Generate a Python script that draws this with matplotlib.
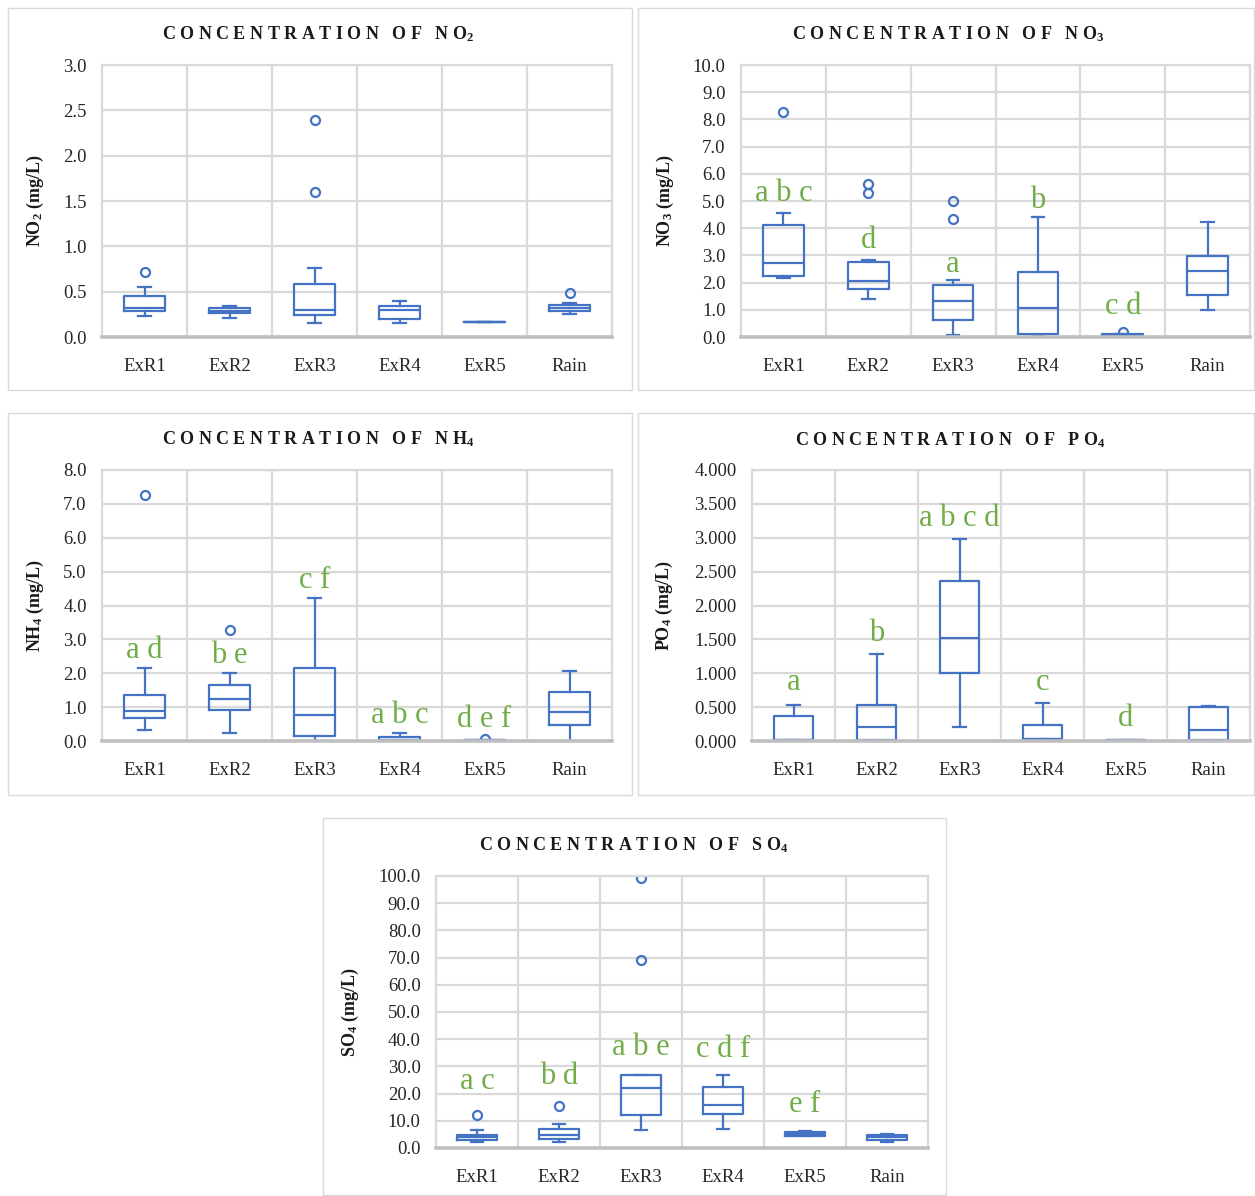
import matplotlib
matplotlib.use("Agg")
import matplotlib.pyplot as plt
from matplotlib.patches import Rectangle
from matplotlib.ticker import FormatStrFormatter, MultipleLocator

plt.rcParams['font.family'] = ['Liberation Serif', 'DejaVu Serif']
plt.rcParams['mathtext.fontset'] = 'custom'
plt.rcParams['mathtext.rm'] = 'Liberation Serif'
plt.rcParams['mathtext.bf'] = 'Liberation Serif:bold'
plt.rcParams['mathtext.it'] = 'Liberation Serif:italic'

W, H, DPI = 1255, 1196, 100
BLUE = '#4472C4'
GREEN = '#70AD47'
GRID = '#D9D9D9'

categories = ["ExR1", "ExR2", "ExR3", "ExR4", "ExR5", "Rain"]

# ---- NO2 ----
no2_whislo = [0.23, 0.21, 0.15, 0.15, 0.16, 0.25]
no2_q1 = [0.29, 0.27, 0.24, 0.20, 0.16, 0.29]
no2_med = [0.32, 0.29, 0.30, 0.30, 0.16, 0.32]
no2_q3 = [0.45, 0.32, 0.58, 0.34, 0.16, 0.35]
no2_whishi = [0.55, 0.34, 0.76, 0.40, 0.16, 0.37]
no2_fliers = [[0.72], [], [1.60, 2.39], [], [], [0.49]]
no2_letters = ["", "", "", "", "", ""]
no2_letter_y = [0, 0, 0, 0, 0, 0]

# ---- NO3 ----
no3_whislo = [2.16, 1.39, 0.06, 0.09, 0.05, 0.99]
no3_q1 = [2.25, 1.76, 0.63, 0.12, 0.06, 1.56]
no3_med = [2.71, 2.06, 1.32, 1.06, 0.09, 2.41]
no3_q3 = [4.11, 2.77, 1.91, 2.40, 0.12, 2.96]
no3_whishi = [4.57, 2.84, 2.08, 4.41, 0.12, 4.22]
no3_fliers = [[8.28], [5.30, 5.63], [4.33, 5.01], [], [0.20], []]
no3_letters = ["a b c", "d", "a", "b", "c d", ""]
no3_letter_y = [5.26, 3.53, 2.65, 5.01, 1.11, 0]

# ---- NH4 ----
nh4_whislo = [0.31, 0.25, 0.00, 0.00, 0.00, 0.00]
nh4_q1 = [0.68, 0.92, 0.15, 0.00, 0.01, 0.46]
nh4_med = [0.88, 1.25, 0.78, 0.02, 0.02, 0.87]
nh4_q3 = [1.35, 1.65, 2.15, 0.13, 0.03, 1.46]
nh4_whishi = [2.15, 2.01, 4.22, 0.23, 0.04, 2.07]
nh4_fliers = [[7.26], [3.28], [], [], [0.07], []]
nh4_letters = ["a d", "b e", "c f", "a b c", "d e f", ""]
nh4_letter_y = [2.66, 2.53, 4.73, 0.76, 0.62, 0]

# ---- PO4 ----
po4_whislo = [0.01, 0.00, 0.207, 0.00, 0.005, 0.00]
po4_q1 = [0.01, 0.01, 1.00, 0.025, 0.005, 0.01]
po4_med = [0.01, 0.21, 1.527, 0.03, 0.01, 0.167]
po4_q3 = [0.374, 0.527, 2.355, 0.23, 0.015, 0.50]
po4_whishi = [0.537, 1.286, 2.98, 0.557, 0.02, 0.52]
po4_fliers = [[], [], [], [], [], []]
po4_letters = ["a", "b", "a b c d", "c", "d", ""]
po4_letter_y = [0.86, 1.58, 3.29, 0.86, 0.33, 0]

# ---- SO4 ----
so4_whislo = [2.1, 2.1, 6.7, 7.0, 4.4, 2.3]
so4_q1 = [3.1, 3.3, 12.0, 12.6, 4.5, 2.8]
so4_med = [3.9, 4.9, 22.2, 15.9, 5.1, 3.9]
so4_q3 = [4.9, 7.1, 26.8, 22.5, 6.0, 4.9]
so4_whishi = [6.5, 8.9, 27.0, 26.9, 6.1, 5.3]
so4_fliers = [[12.1], [15.4], [69.2, 99.4], [], [], []]
so4_letters = ["a c", "b d", "a b e", "c d f", "e f", ""]
so4_letter_y = [24.5, 26.3, 37.1, 36.1, 15.9, 0]

fig = plt.figure(figsize=(W / DPI, H / DPI), dpi=DPI)
fig.patch.set_facecolor('white')


def fx(x):
    return x / W


def fy(y):
    return 1 - y / H


def spaced(word):
    return " ".join(word)


def panel(frame, area, species, sub, ymax, ystep, fmt,
          whislo, q1, med, q3, whishi, fliers, letters, letter_y,
          title_xy, ylabel_x):
    x0, y0, x1, y1 = frame
    fig.add_artist(Rectangle((fx(x0), fy(y1)), (x1 - x0) / W, (y1 - y0) / H,
                             transform=fig.transFigure, fill=False,
                             edgecolor=GRID, lw=1.0))
    l, t, r, b = area
    ax = fig.add_axes([fx(l), fy(b), (r - l) / W, (b - t) / H])
    stats = []
    for i in range(len(categories)):
        stats.append(dict(whislo=whislo[i], q1=q1[i], med=med[i], q3=q3[i],
                          whishi=whishi[i], fliers=fliers[i]))
    lw = 1.6
    ax.bxp(stats, positions=range(1, len(categories) + 1), widths=0.48,
           capwidths=0.15, showfliers=True, manage_ticks=False,
           boxprops=dict(color=BLUE, lw=lw),
           medianprops=dict(color=BLUE, lw=lw),
           whiskerprops=dict(color=BLUE, lw=lw),
           capprops=dict(color=BLUE, lw=lw),
           flierprops=dict(marker='o', markerfacecolor='none',
                           markeredgecolor=BLUE, markersize=6.5,
                           markeredgewidth=1.6))
    for i, (txt, yv) in enumerate(zip(letters, letter_y)):
        if txt:
            ax.text(i + 1, yv, txt, color=GREEN, fontsize=22,
                    ha='center', va='center')
    ax.set_xlim(0.5, len(categories) + 0.5)
    ax.set_ylim(0, ymax)
    ax.yaxis.set_major_locator(MultipleLocator(ystep))
    ax.yaxis.set_major_formatter(FormatStrFormatter(fmt))
    ax.set_xticks(range(1, len(categories) + 1))
    ax.set_xticklabels(categories)
    ax.set_xticks([k + 0.5 for k in range(1, len(categories))], minor=True)
    ax.tick_params(axis='both', which='both', length=0, labelsize=13.5)
    ax.tick_params(axis='y', pad=11)
    ax.tick_params(axis='x', pad=15)
    ax.grid(axis='y', which='major', color=GRID, lw=1.6)
    ax.grid(axis='x', which='minor', color=GRID, lw=1.6)
    ax.set_axisbelow(True)
    for s in ('left', 'right', 'top'):
        ax.spines[s].set_color(GRID)
        ax.spines[s].set_linewidth(1.6)
    ax.spines['bottom'].set_color('#BFBFBF')
    ax.spines['bottom'].set_linewidth(2.6)
    for lab in ax.get_xticklabels() + ax.get_yticklabels():
        lab.set_color('#262626')
    title = spaced("CONCENTRATION") + "   " + spaced("OF") + "   " + \
        spaced(species) + r"$_\mathbf{" + sub + "}$"
    fig.text(fx(title_xy[0]), fy(title_xy[1]), title, ha='center',
             va='center', fontsize=13, fontweight='bold', color='#1a1a1a')
    fig.text(fx(ylabel_x), fy((t + b) / 2), species + r"$_\mathbf{" + sub +
             "}$ (mg/L)", rotation=90, ha='center', va='center',
             fontsize=13, fontweight='bold', color='#1a1a1a')
    return ax


panel((8, 8, 632, 390), (102, 65, 612, 337), "NO", "2", 3.0, 0.5, '%.1f',
      no2_whislo, no2_q1, no2_med, no2_q3, no2_whishi, no2_fliers,
      no2_letters, no2_letter_y, (318, 34), 35)
panel((638, 8, 1254, 390), (741, 65, 1250, 337), "NO", "3", 10.0, 1.0, '%.1f',
      no3_whislo, no3_q1, no3_med, no3_q3, no3_whishi, no3_fliers,
      no3_letters, no3_letter_y, (948, 34), 665)
panel((8, 413, 632, 795), (102, 470, 612, 741), "NH", "4", 8.0, 1.0, '%.1f',
      nh4_whislo, nh4_q1, nh4_med, nh4_q3, nh4_whishi, nh4_fliers,
      nh4_letters, nh4_letter_y, (318, 439), 35)
panel((638, 413, 1254, 795), (752, 470, 1250, 741), "PO", "4", 4.0, 0.5, '%.3f',
      po4_whislo, po4_q1, po4_med, po4_q3, po4_whishi, po4_fliers,
      po4_letters, po4_letter_y, (950, 440), 664)
panel((323, 818, 946, 1195), (436, 876, 928, 1148), "SO", "4", 100.0, 10.0, '%.1f',
      so4_whislo, so4_q1, so4_med, so4_q3, so4_whishi, so4_fliers,
      so4_letters, so4_letter_y, (634, 845), 350)

fig.savefig("out.png", dpi=DPI, facecolor='white')
